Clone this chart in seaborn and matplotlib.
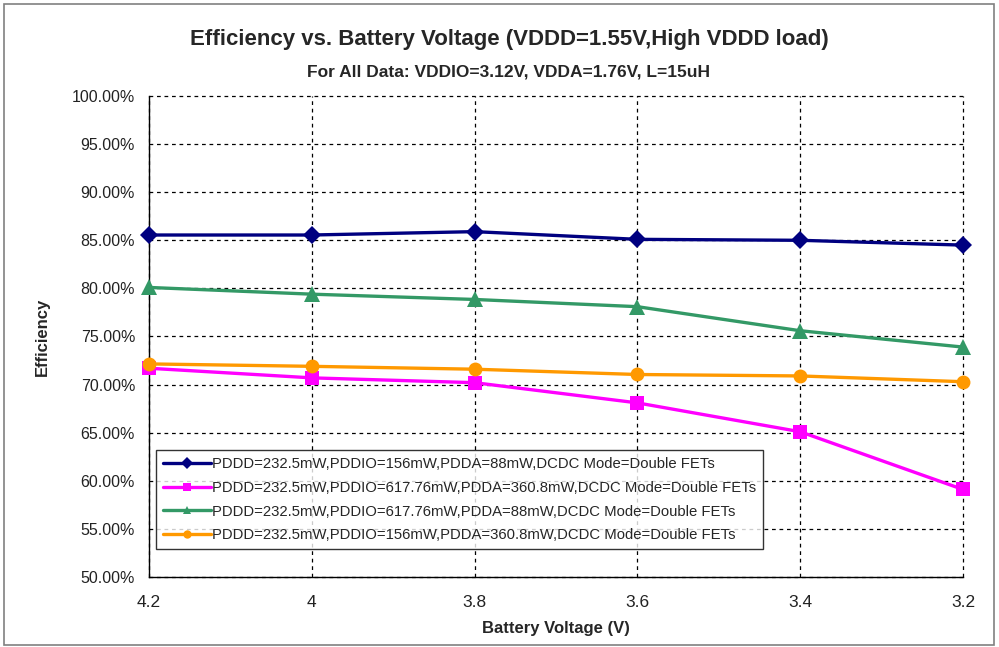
import matplotlib
matplotlib.use("Agg")
from matplotlib import pyplot as plt
from matplotlib.ticker import PercentFormatter, FormatStrFormatter, MultipleLocator
import pandas as pd
import seaborn as sns

# battery voltage (V), x axis runs from 4.2 down to 3.2
voltage = [4.2, 4.0, 3.8, 3.6, 3.4, 3.2]

labels = [
    "PDDD=232.5mW,PDDIO=156mW,PDDA=88mW,DCDC Mode=Double FETs",
    "PDDD=232.5mW,PDDIO=617.76mW,PDDA=360.8mW,DCDC Mode=Double FETs",
    "PDDD=232.5mW,PDDIO=617.76mW,PDDA=88mW,DCDC Mode=Double FETs",
    "PDDD=232.5mW,PDDIO=156mW,PDDA=360.8mW,DCDC Mode=Double FETs",
]

# efficiency in %
eff_low_io_low_a = [85.55, 85.55, 85.9, 85.1, 85.0, 84.5]
eff_high_io_high_a = [71.7, 70.7, 70.2, 68.1, 65.1, 59.1]
eff_high_io_low_a = [80.1, 79.4, 78.85, 78.1, 75.6, 73.9]
eff_low_io_high_a = [72.15, 71.9, 71.6, 71.05, 70.9, 70.3]

colors = ["#000080", "#FF00FF", "#339966", "#FF9900"]
markers = ["D", "s", "^", "o"]
marker_sizes = [9, 10, 11.5, 10]

series = [eff_low_io_low_a, eff_high_io_high_a, eff_high_io_low_a, eff_low_io_high_a]
df = pd.concat(
    [pd.DataFrame({"Voltage": voltage, "Efficiency": s, "Series": lab}) for s, lab in zip(series, labels)],
    ignore_index=True,
)

sns.set_theme(style="white")
plt.rcParams["font.family"] = ["Liberation Sans", "DejaVu Sans"]

fig = plt.figure(figsize=(9.99, 6.47), dpi=100)
ax = fig.add_axes([149 / 999, 1 - 577 / 647, 814 / 999, 481 / 647])

sns.lineplot(data=df, x="Voltage", y="Efficiency", hue="Series", style="Series",
             palette=colors, markers=markers, dashes=False, linewidth=2.4,
             markersize=9, markeredgewidth=0, ax=ax)

for line, ms in zip(ax.get_lines()[:4], marker_sizes):
    line.set_markersize(ms)
    line.set_clip_on(False)
    line.set_zorder(5)

ax.set_xlim(4.2, 3.2)
ax.set_ylim(50, 100)
ax.xaxis.set_major_locator(MultipleLocator(0.2))
ax.xaxis.set_major_formatter(FormatStrFormatter("%g"))
ax.yaxis.set_major_locator(MultipleLocator(5))
ax.yaxis.set_major_formatter(PercentFormatter(decimals=2))
ax.grid(True, color="black", linestyle=(0, (3, 3)), linewidth=0.9, clip_on=False)
for side in ["top", "right"]:
    ax.spines[side].set_visible(False)
for side in ["left", "bottom"]:
    ax.spines[side].set_color("black")
    ax.spines[side].set_linewidth(1.0)
ax.tick_params(axis="both", direction="out", length=4, width=1, color="black", colors="#222222")
ax.tick_params(axis="x", pad=9, labelsize=12.5)
ax.tick_params(axis="y", pad=6, labelsize=11.5)

ax.set_xlabel("Battery Voltage (V)", fontsize=12, fontweight="bold", labelpad=8)
ax.set_ylabel("Efficiency", fontsize=12, fontweight="bold", labelpad=16)

fig.text(0.51, 1 - 40 / 647, "Efficiency vs. Battery Voltage (VDDD=1.55V,High VDDD load)",
         ha="center", va="center", fontsize=16, fontweight="bold")
fig.text(0.509, 1 - 72 / 647, "For All Data: VDDIO=3.12V, VDDA=1.76V, L=15uH",
         ha="center", va="center", fontsize=12.5, fontweight="bold")

leg = ax.legend(loc="lower left", bbox_to_anchor=(0.009, 0.058), borderaxespad=0,
                fontsize=10.7, frameon=True, fancybox=False, handlelength=3.2,
                handletextpad=0.1, labelspacing=0.66, borderpad=0.45, title=None)
leg.get_frame().set_edgecolor("black")
leg.get_frame().set_linewidth(1.0)
for line in leg.get_lines():
    line.set_markersize(6)

# chart area border
fig.patches.append(plt.Rectangle((4 / 999, 2 / 647), 990 / 999, 641 / 647, transform=fig.transFigure,
                                 fill=False, edgecolor="#808080", linewidth=1.2))

fig.savefig("out.png", dpi=100)
